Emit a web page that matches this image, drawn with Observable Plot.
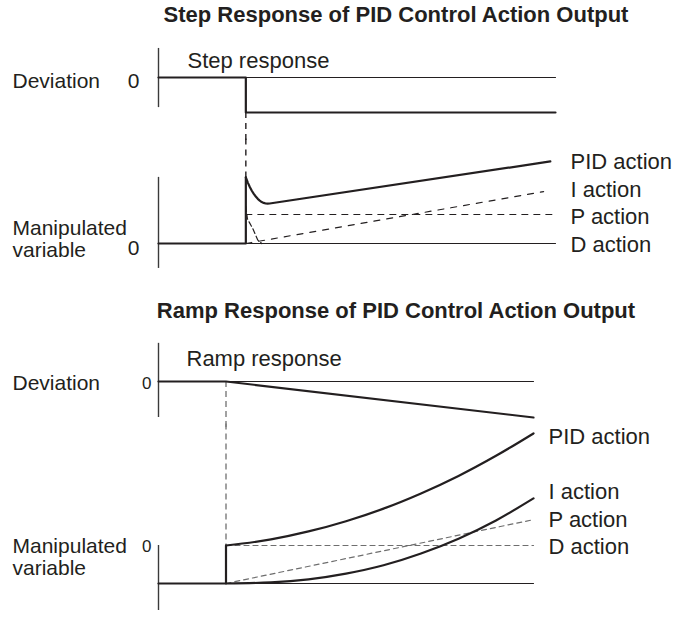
<!DOCTYPE html>
<html>
<head>
<meta charset="utf-8">
<script src="https://cdn.jsdelivr.net/npm/d3@7"></script>
<script src="https://cdn.jsdelivr.net/npm/@observablehq/plot@0.6"></script>
<style>
  html, body { margin: 0; padding: 0; background: #fff; }
  #root { position: relative; width: 674px; height: 618px; overflow: hidden; font-family: "Liberation Sans", Arial, Helvetica, sans-serif; color: #231f20; }
  .title { position: absolute; left: 118px; width: 556px; text-align: center; font-size: 22px; line-height: 22px; font-weight: bold; white-space: nowrap; }
  .panel { position: absolute; left: 0; }
</style>
</head>
<body>
<div id="root"></div>
<script>
// ---------- text ----------
const titles = ["Step Response of PID Control Action Output", "Ramp Response of PID Control Action Output"];
const panelLabels = ["Step response", "Ramp response"];
const leftLabels = ["Deviation", "Manipulated", "variable"];
const zeroLabel = "0";
const actionLabels = ["PID action", "I action", "P action", "D action"];

// ---------- step response (time 0..100, step at t = 22) ----------
const stepDevT = [0, 22, 22, 100];
const stepDevV = [0, 0, -1, -1];
const stepPidRiseT = [0, 22, 22];
const stepPidRiseV = [0, 0, 2.28];
const stepPidT = [22, 22.5, 23, 23.5, 24, 24.5, 25, 25.5, 26, 26.5, 27, 27.5, 28, 98.7];
const stepPidV = [2.28, 2.1, 1.95, 1.82, 1.71, 1.62, 1.54, 1.48, 1.43, 1.4, 1.38, 1.375, 1.38, 2.83];
const stepIT = [22, 97];
const stepIV = [0, 1.79];
const stepPT = [22, 100];
const stepPV = [1, 1];
const stepDT = [22, 22.4, 23.8, 25, 26, 100];
const stepDV = [1.28, 0.85, 0.5, 0.12, 0, 0];
const stepDevAxis = [-0.86, 0.83];
const stepManAxis = [-0.86, 2.28];
const stepGuide = [[-1, -1.8], [3.6, 2.28]];

// ---------- ramp response (time 0..100, ramp from t = 18) ----------
const rampDevT = [0, 18, 100];
const rampDevV = [0, 0, -1];
const rampPidRiseT = [0, 18, 18];
const rampPidRiseV = [0, 0, 1];
const rampT = [18, 30, 40, 50, 60, 70, 80, 90, 100];
const rampPidV = [1, 1.16, 1.37, 1.64, 1.97, 2.37, 2.83, 3.36, 3.95];
const rampIV = [0, 0.03, 0.11, 0.26, 0.48, 0.79, 1.18, 1.66, 2.24];
const rampPT = [18, 100];
const rampPV = [0, 1.68];
const rampDT = [18, 100];
const rampDV = [1, 1];
const rampDevAxis = [-1, 1.06];
const rampManAxis = [-0.71, 1];
const rampGuide = [[0, -1.3], [4.2, 1]];

// ---------- helpers ----------
const FONT = "Liberation Sans, Arial, Helvetica, sans-serif";
const INK = "#231f20";
const pts = (T, V) => T.map((t, i) => ({t, v: V[i]}));
const root = document.getElementById("root");

function addTitle(text, top) {
  const d = document.createElement("div");
  d.className = "title";
  d.style.top = top + "px";
  d.textContent = text;
  root.appendChild(d);
}

function addPanel(top, height, xRange, yDomain, yRange, marks) {
  const svg = Plot.plot({
    width: 674, height,
    marginTop: 0, marginRight: 0, marginBottom: 0, marginLeft: 0,
    x: {domain: [0, 100], range: xRange, axis: null},
    y: {domain: yDomain, range: yRange, axis: null},
    style: {background: "transparent", overflow: "visible", fontFamily: FONT},
    marks
  });
  svg.classList.add("panel");
  svg.style.top = top + "px";
  root.appendChild(svg);
}

function label(t, v, s, o) {
  return Plot.text([{t, v, s}], Object.assign({
    x: "t", y: "v", text: "s", fontFamily: FONT, fontSize: 22, fill: INK,
    lineAnchor: "middle", textAnchor: "start"
  }, o));
}

const axisRule = (ext) => Plot.ruleX([{t: 0, a: ext[0], b: ext[1]}], {x: "t", y1: "a", y2: "b", stroke: "#3a3a3a", strokeWidth: 1.4});
const thin = (T, V) => Plot.line(pts(T, V), {x: "t", y: "v", stroke: INK, strokeWidth: 1.2});
const thick = (T, V, curve) => Plot.line(pts(T, V), {x: "t", y: "v", stroke: INK, strokeWidth: 2.2, curve: curve || "linear"});
const dashed = (T, V, color, dash, curve) => Plot.line(pts(T, V), {x: "t", y: "v", stroke: color, strokeWidth: 1.2, strokeDasharray: dash, curve: curve || "linear"});
const guide = (t, g, color, dash) => Plot.ruleX([{t, a: g[0], b: g[1]}], {x: "t", y1: "a", y2: "b", stroke: color, strokeWidth: 1.4, strokeDasharray: dash});
const last = (V) => V[V.length - 1];
const manipText = leftLabels[1] + "\n" + leftLabels[2];

// ---------- titles ----------
addTitle(titles[0], 4);
addTitle(titles[1], 300);

// ---------- step: deviation band ----------
const STEP_X = [158, 555];
addPanel(36, 104, STEP_X, [-1, 0], [76, 41], [
  axisRule(stepDevAxis),
  thin([0, 100], [0, 0]),
  thick(stepDevT, stepDevV),
  guide(22, stepGuide[0], INK, "6,5"),
  label(0, 0, panelLabels[0], {dx: 29, dy: -17}),
  label(0, 0, leftLabels[0], {dx: -146, dy: 4, fontSize: 21}),
  label(0, 0, zeroLabel, {dx: -19, dy: 4, textAnchor: "end", fontSize: 21})
]);

// ---------- step: manipulated variable band ----------
addPanel(140, 150, STEP_X, [0, 1], [103, 74], [
  axisRule(stepManAxis),
  thin([0, 100], [0, 0]),
  guide(22, stepGuide[1], INK, "6,5"),
  dashed(stepPT, stepPV, INK, "6,6"),
  dashed(stepIT, stepIV, INK, "6,7"),
  dashed(stepDT.slice(0, 5), stepDV.slice(0, 5), INK, "5,3"),
  thick(stepPidRiseT, stepPidRiseV),
  thick(stepPidT, stepPidV),
  label(100, last(stepPidV), actionLabels[0], {dx: 15, dy: 1}),
  label(100, last(stepIV), actionLabels[1], {dx: 15, dy: -2}),
  label(100, last(stepPV), actionLabels[2], {dx: 15, dy: 2}),
  label(100, last(stepDV), actionLabels[3], {dx: 15, dy: 1}),
  label(0, 0, manipText, {dx: -146, dy: -5, fontSize: 21, lineHeight: 1.05}),
  label(0, 0, zeroLabel, {dx: -19, dy: 5, textAnchor: "end", fontSize: 21})
]);

// ---------- ramp: deviation band ----------
const RAMP_X = [158, 533];
addPanel(330, 95, RAMP_X, [-1, 0], [87, 51], [
  axisRule(rampDevAxis),
  thin([0, 100], [0, 0]),
  guide(18, rampGuide[0], "#7a7a7a", "6,4"),
  thick(rampDevT, rampDevV),
  label(0, 0, panelLabels[1], {dx: 28, dy: -23}),
  label(0, 0, leftLabels[0], {dx: -146, dy: 2, fontSize: 21}),
  label(0, 0, zeroLabel, {dx: -7, dy: 2, textAnchor: "end", fontSize: 17})
]);

// ---------- ramp: manipulated variable band ----------
addPanel(425, 193, RAMP_X, [0, 1], [158, 120], [
  axisRule(rampManAxis),
  thin([0, 100], [0, 0]),
  guide(18, rampGuide[1], "#7a7a7a", "6,4"),
  dashed(rampDT, rampDV, "#6e6e6e", "5,4"),
  dashed(rampPT, rampPV, "#6e6e6e", "5,4"),
  thick(rampPidRiseT, rampPidRiseV),
  thick(rampT, rampPidV, "monotone-x"),
  thick(rampT, rampIV, "monotone-x"),
  label(100, last(rampPidV), actionLabels[0], {dx: 15, dy: 4}),
  label(100, last(rampIV), actionLabels[1], {dx: 15, dy: -6}),
  label(100, last(rampPV), actionLabels[2], {dx: 15, dy: 0}),
  label(100, last(rampDV), actionLabels[3], {dx: 15, dy: 1}),
  label(0, 1, manipText, {dx: -146, dy: 11, fontSize: 21, lineHeight: 1.05}),
  label(0, 1, zeroLabel, {dx: -7, dy: 1, textAnchor: "end", fontSize: 17})
]);
</script>
</body>
</html>
